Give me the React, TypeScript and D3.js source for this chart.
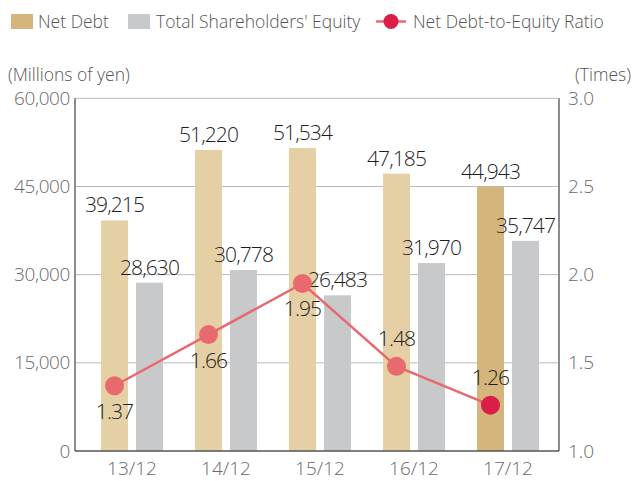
import React, { useEffect, useRef } from "react";
import * as d3 from "d3";

const categories = ["13/12", "14/12", "15/12", "16/12", "17/12"];
const netDebt = [39215, 51220, 51534, 47185, 44943];
const equity = [28630, 30778, 26483, 31970, 35747];
const ratio = [1.37, 1.66, 1.95, 1.48, 1.26];
const leftTicks = [0, 15000, 30000, 45000, 60000];
const rightTicks = [1.0, 1.5, 2.0, 2.5, 3.0];

// where each ratio label sits relative to its marker
const ratioLabelSide = ["below", "below", "below", "above", "above"];

const W = 633;
const H = 481;
const FONT = "'Open Sans', 'Noto Sans', sans-serif";

const App = () => {
  const svgRef = useRef<SVGSVGElement>(null);

  useEffect(() => {
    const svg = d3.select(svgRef.current);
    svg.selectAll("*").remove();

    const plot = { left: 75, right: 559, top: 98.3, bottom: 451 };

    const x = d3.scaleBand().domain(categories).range([85, 555]);
    const yL = d3.scaleLinear().domain([0, 60000]).range([plot.bottom, plot.top]);
    const yR = d3.scaleLinear().domain([1, 3]).range([plot.bottom, plot.top]);

    const barW = 27;
    const gap = 8;
    const cx = (c: string) => (x(c) as number) + x.bandwidth() / 2;
    const debtX = (c: string) => cx(c) - gap / 2 - barW;
    const eqX = (c: string) => cx(c) + gap / 2;

    // gridlines
    svg.append("g")
      .selectAll("line")
      .data(leftTicks.filter(t => t > 0))
      .enter().append("line")
      .attr("x1", plot.left)
      .attr("x2", plot.right)
      .attr("y1", d => yL(d))
      .attr("y2", d => yL(d))
      .attr("stroke", "#b9b9b9")
      .attr("stroke-width", 1);

    // bars
    svg.append("g")
      .selectAll("rect")
      .data(categories)
      .enter().append("rect")
      .attr("x", d => debtX(d))
      .attr("y", (d, i) => yL(netDebt[i]))
      .attr("width", barW)
      .attr("height", (d, i) => plot.bottom - yL(netDebt[i]))
      .attr("fill", (d, i) => (i === categories.length - 1 ? "#d4b57b" : "#e5cfa5"));

    svg.append("g")
      .selectAll("rect")
      .data(categories)
      .enter().append("rect")
      .attr("x", d => eqX(d))
      .attr("y", (d, i) => yL(equity[i]))
      .attr("width", barW)
      .attr("height", (d, i) => plot.bottom - yL(equity[i]))
      .attr("fill", "#c8c9cb");

    // axes frame
    const axisColor = "#666";
    svg.append("line")
      .attr("x1", plot.left).attr("x2", plot.left)
      .attr("y1", plot.top).attr("y2", plot.bottom)
      .attr("stroke", axisColor).attr("stroke-width", 1.5);
    svg.append("line")
      .attr("x1", plot.right).attr("x2", plot.right)
      .attr("y1", plot.top).attr("y2", plot.bottom)
      .attr("stroke", axisColor).attr("stroke-width", 1.5);
    svg.append("line")
      .attr("x1", plot.left).attr("x2", plot.right)
      .attr("y1", plot.bottom).attr("y2", plot.bottom)
      .attr("stroke", "#555").attr("stroke-width", 1.5);

    // tick labels
    const tickColor = "#6a6a6a";
    svg.append("g")
      .selectAll("text")
      .data(leftTicks)
      .enter().append("text")
      .attr("x", plot.left - 5)
      .attr("y", d => yL(d))
      .attr("dy", "0.35em")
      .attr("text-anchor", "end")
      .attr("font-family", FONT)
      .attr("font-weight", 300)
      .attr("font-size", 19)
      .attr("letter-spacing", -0.4)
      .attr("fill", tickColor)
      .text(d => d3.format(",")(d));

    svg.append("g")
      .selectAll("text")
      .data(rightTicks)
      .enter().append("text")
      .attr("x", plot.right + 9)
      .attr("y", d => yR(d))
      .attr("dy", "0.35em")
      .attr("font-family", FONT)
      .attr("font-weight", 300)
      .attr("font-size", 19)
      .attr("fill", tickColor)
      .text(d => d.toFixed(1));

    svg.append("g")
      .selectAll("text")
      .data(categories)
      .enter().append("text")
      .attr("x", d => cx(d))
      .attr("y", 475)
      .attr("text-anchor", "middle")
      .attr("font-family", FONT)
      .attr("font-weight", 300)
      .attr("font-size", 19)
      .attr("fill", tickColor)
      .text(d => d);

    // axis titles
    svg.append("text")
      .attr("x", 8).attr("y", 81)
      .attr("font-family", FONT).attr("font-size", 17.5).attr("font-weight", 300)
      .attr("fill", "#555")
      .text("(Millions of yen)");
    svg.append("text")
      .attr("x", 631).attr("y", 81)
      .attr("text-anchor", "end")
      .attr("font-family", FONT).attr("font-size", 17.5).attr("font-weight", 300)
      .attr("fill", "#555")
      .text("(Times)");

    // bar value labels
    const valColor = "#1e1e1e";
    svg.append("g")
      .selectAll("text")
      .data(categories)
      .enter().append("text")
      .attr("x", d => debtX(d) + barW / 2)
      .attr("y", (d, i) => yL(netDebt[i]) - 8)
      .attr("text-anchor", "middle")
      .attr("font-family", FONT)
      .attr("font-weight", 300)
      .attr("font-size", 21)
      .attr("letter-spacing", -0.9)
      .attr("fill", valColor)
      .text((d, i) => d3.format(",")(netDebt[i]));

    svg.append("g")
      .selectAll("text")
      .data(categories)
      .enter().append("text")
      .attr("x", d => eqX(d) + barW / 2)
      .attr("y", (d, i) => yL(equity[i]) - 8)
      .attr("text-anchor", "middle")
      .attr("font-family", FONT)
      .attr("font-weight", 300)
      .attr("font-size", 21)
      .attr("letter-spacing", -0.9)
      .attr("fill", valColor)
      .text((d, i) => d3.format(",")(equity[i]));

    // ratio line
    const line = d3.line<number>()
      .x((d, i) => debtX(categories[i]) + barW / 2)
      .y(d => yR(d));

    svg.append("path")
      .datum(ratio)
      .attr("fill", "none")
      .attr("stroke", "#e8696e")
      .attr("stroke-width", 2.5)
      .attr("d", line);

    svg.append("g")
      .selectAll("circle")
      .data(ratio)
      .enter().append("circle")
      .attr("cx", (d, i) => debtX(categories[i]) + barW / 2)
      .attr("cy", d => yR(d))
      .attr("r", 9.5)
      .attr("fill", (d, i) => (i === ratio.length - 1 ? "#db1d48" : "#e8696e"));

    svg.append("g")
      .selectAll("text")
      .data(ratio)
      .enter().append("text")
      .attr("x", (d, i) => debtX(categories[i]) + barW / 2)
      .attr("y", (d, i) => yR(d) + (ratioLabelSide[i] === "below" ? 33 : -20))
      .attr("text-anchor", "middle")
      .attr("font-family", FONT)
      .attr("font-weight", 300)
      .attr("font-size", 21)
      .attr("letter-spacing", -0.9)
      .attr("fill", valColor)
      .text(d => d.toFixed(2));

    // legend
    const lg = svg.append("g").attr("font-family", FONT).attr("font-size", 17.5)
      .attr("font-weight", 300).attr("fill", "#555");
    lg.append("rect").attr("x", 11).attr("y", 14).attr("width", 22).attr("height", 15).attr("fill", "#d4b57b");
    lg.append("text").attr("x", 38).attr("y", 27.5).text("Net Debt");
    lg.append("rect").attr("x", 128).attr("y", 14).attr("width", 22).attr("height", 15).attr("fill", "#c8c9cb");
    lg.append("text").attr("x", 156).attr("y", 27.5).text("Total Shareholders' Equity");
    lg.append("line").attr("x1", 376).attr("x2", 406).attr("y1", 21.5).attr("y2", 21.5)
      .attr("stroke", "#e8696e").attr("stroke-width", 2.5);
    lg.append("circle").attr("cx", 391).attr("cy", 21.5).attr("r", 7.5).attr("fill", "#db1d48");
    lg.append("text").attr("x", 413).attr("y", 27.5).text("Net Debt-to-Equity Ratio");
  }, []);

  return (
    <div style={{ position: "absolute", left: 0, top: 0, width: W, height: H, background: "#fff" }}>
      <svg ref={svgRef} width={W} height={H} style={{ display: "block" }} />
    </div>
  );
};

export default App;
